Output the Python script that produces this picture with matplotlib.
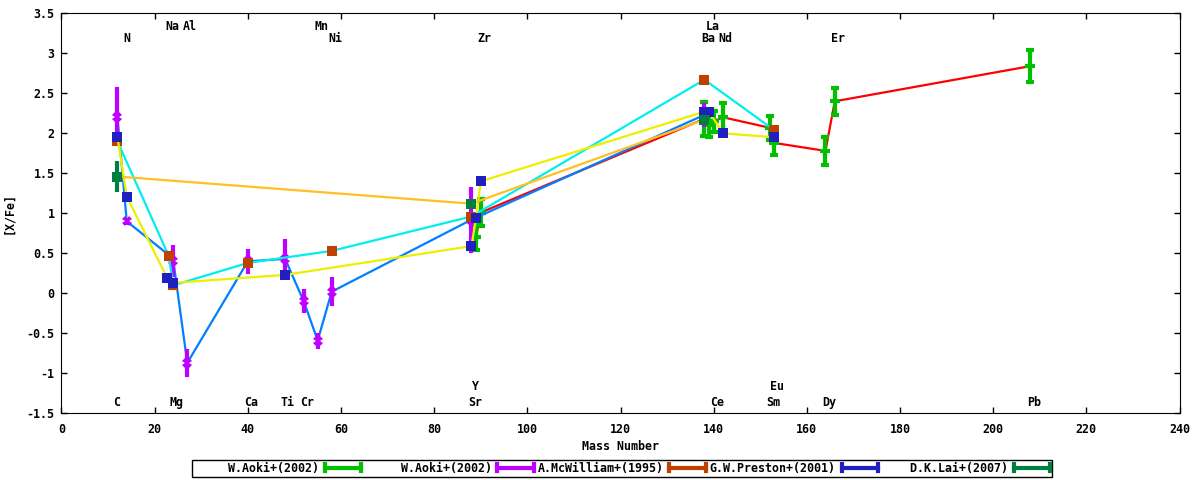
import matplotlib
matplotlib.use("Agg")
import matplotlib.pyplot as plt
from matplotlib.lines import Line2D
from matplotlib.legend_handler import HandlerBase
from matplotlib.ticker import FuncFormatter, MultipleLocator

# [X/Fe] vs mass number
aoki_a_mass = [89, 90, 138, 139, 140, 142, 152, 153, 164, 166, 208]
aoki_a_val = [0.70, 1.01, 2.18, 2.10, 2.15, 2.20, 2.07, 1.88, 1.78, 2.40, 2.84]
aoki_a_err = [0.16, 0.17, 0.21, 0.14, 0.13, 0.18, 0.15, 0.15, 0.18, 0.17, 0.20]

aoki_b_mass = [12, 14, 23, 24, 27, 40, 48, 52, 55, 58, 88, 138]
aoki_b_val = [2.21, 0.90, 0.48, 0.41, -0.87, 0.40, 0.43, -0.10, -0.59, 0.02, 0.92, 2.23]
aoki_b_err = [0.37, 0.04, 0.05, 0.20, 0.17, 0.16, 0.25, 0.15, 0.10, 0.18, 0.41, 0.15]

mcwilliam_mass = [12, 23, 24, 40, 58, 88, 138, 153]
mcwilliam_val = [1.90, 0.47, 0.10, 0.38, 0.53, 0.96, 2.67, 2.04]
mcwilliam_err = [0, 0, 0, 0, 0, 0, 0, 0]

preston_mass = [12, 14, 22.7, 23.9, 48, 88, 89, 90, 138, 139, 142, 153]
preston_val = [1.96, 1.21, 0.19, 0.13, 0.23, 0.59, 0.945, 1.40, 2.27, 2.27, 2.00, 1.95]
preston_err = [0] * 12

lai_mass = [12, 88, 138]
lai_val = [1.46, 1.12, 2.17]
lai_err = [0.19, 0, 0]

labels_top_hi = ["Na", "Al", "Mn", "La"]
labels_top_hi_x = [23.8, 27.6, 55.8, 139.7]
labels_top_lo = ["N", "Ni", "Zr", "Ba", "Nd", "Er"]
labels_top_lo_x = [14.0, 58.7, 90.7, 138.8, 142.6, 166.7]
labels_bot_hi = ["Y", "Eu"]
labels_bot_hi_x = [88.9, 153.5]
labels_bot_lo = ["C", "Mg", "Ca", "Ti", "Cr", "Sr", "Ce", "Sm", "Dy", "Pb"]
labels_bot_lo_x = [11.9, 24.7, 40.8, 48.6, 52.7, 88.9, 140.7, 152.7, 164.9, 208.7]

legend_names = ["W.Aoki+(2002)", "W.Aoki+(2002)", "A.McWilliam+(1995)",
                "G.W.Preston+(2001)", "D.K.Lai+(2007)"]

FONT = dict(family="DejaVu Sans Mono", weight="bold", size=8.4)


class ErrKeyHandler(HandlerBase):
    """gnuplot-like horizontal errorbar sample for the key."""

    def create_artists(self, legend, orig_handle, xdescent, ydescent,
                       width, height, fontsize, trans):
        c = orig_handle.get_color()
        x0, x1 = -xdescent, width - xdescent
        y = (height - ydescent) / 2.0
        h = height * 0.42
        arts = [Line2D([x0, x1], [y, y], color=c, lw=3),
                Line2D([x0, x0], [y - h, y + h], color=c, lw=3),
                Line2D([x1, x1], [y - h, y + h], color=c, lw=3)]
        for a in arts:
            a.set_transform(trans)
        return arts


def draw_set(ax, mass, val, err, line_color, point_color, marker, ms, z):
    ax.plot(mass, val, color=line_color, lw=1.6, zorder=z)
    ax.errorbar(mass, val, yerr=err, fmt=marker, color=point_color, ms=ms,
                mew=3 if marker == "_" else 0, elinewidth=3, capsize=2.8,
                capthick=2.5, zorder=z + 1)


fig = plt.figure(figsize=(12, 4.8), dpi=100)
ax = fig.add_axes([61.5 / 1200, 1 - 413.3 / 480, 1118 / 1200, 400 / 480])

draw_set(ax, aoki_a_mass, aoki_a_val, aoki_a_err, "#ff0000", "#00c000", "_", 7, 2)
draw_set(ax, aoki_b_mass, aoki_b_val, aoki_b_err, "#0080ff", "#c000ff", "X", 6.5, 4)
draw_set(ax, mcwilliam_mass, mcwilliam_val, mcwilliam_err, "#00eeee", "#c04000", "s", 7.3, 6)
draw_set(ax, preston_mass, preston_val, preston_err, "#eeee00", "#2020c0", "s", 7.3, 8)
draw_set(ax, lai_mass, lai_val, lai_err, "#ffc020", "#008040", "s", 7.3, 10)

for names, xs, y in [(labels_top_hi, labels_top_hi_x, 3.34),
                     (labels_top_lo, labels_top_lo_x, 3.19),
                     (labels_bot_hi, labels_bot_hi_x, -1.17),
                     (labels_bot_lo, labels_bot_lo_x, -1.37)]:
    for name, x in zip(names, xs):
        ax.text(x, y, name, ha="center", va="center", zorder=20, **FONT)

ax.set_xlim(0, 240)
ax.set_ylim(-1.5, 3.5)
ax.xaxis.set_major_locator(MultipleLocator(20))
ax.yaxis.set_major_locator(MultipleLocator(0.5))
ax.yaxis.set_major_formatter(FuncFormatter(lambda v, p: "%g" % v))
ax.tick_params(direction="in", top=True, right=True, length=4.5, width=1)
ax.tick_params(axis="y", pad=5)
ax.tick_params(axis="x", pad=7)
for lab in ax.get_xticklabels() + ax.get_yticklabels():
    lab.set_fontfamily(FONT["family"])
    lab.set_fontweight(FONT["weight"])
    lab.set_fontsize(FONT["size"])
ax.set_xlabel("Mass Number", labelpad=3, **FONT)
ax.set_ylabel("[X/Fe]", labelpad=8, **FONT)

handles = [Line2D([], [], color=c) for c in
           ["#00c000", "#c000ff", "#c04000", "#2020c0", "#008040"]]
names = [n.rjust(18) for n in legend_names]
leg = fig.legend(handles, names, loc="center", bbox_to_anchor=(0.518, 0.024),
                 ncol=5, markerfirst=False, frameon=True, fancybox=False,
                 edgecolor="black", framealpha=1, borderpad=0.15,
                 handlelength=3.1, handletextpad=0.5, columnspacing=0.35,
                 handler_map={Line2D: ErrKeyHandler()},
                 prop={"family": FONT["family"], "weight": "bold", "size": FONT["size"]})
leg.get_frame().set_linewidth(1)

fig.savefig("out.png", dpi=100)
